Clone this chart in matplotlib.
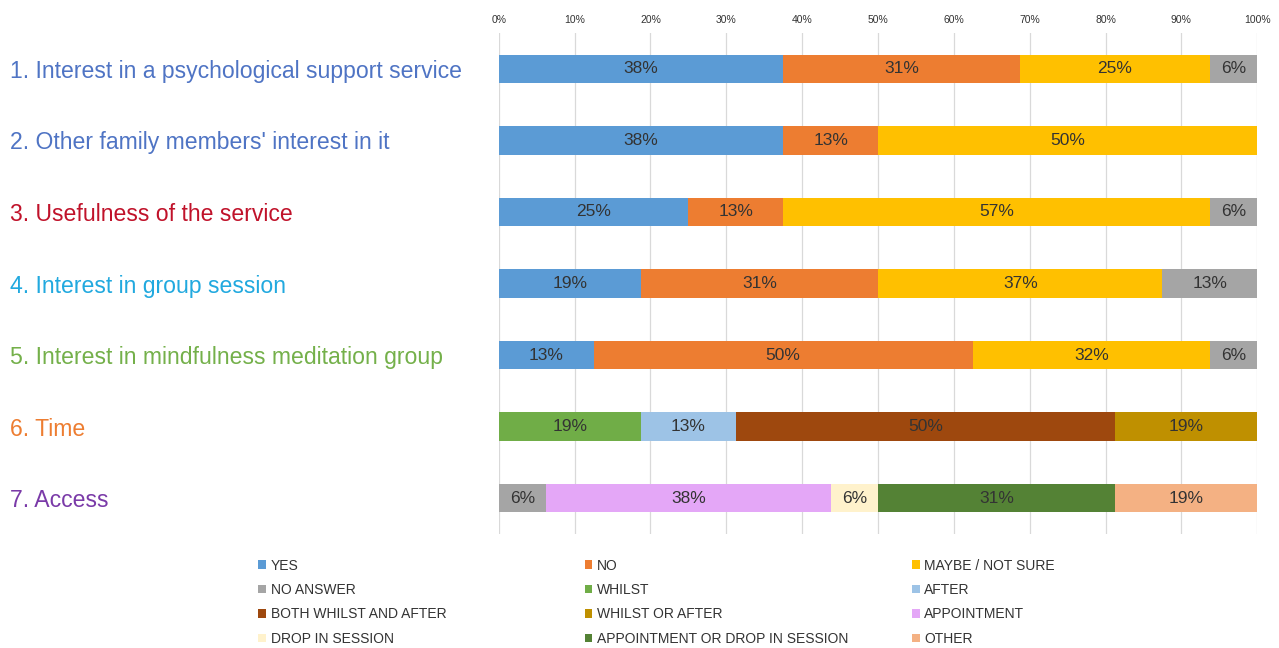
import matplotlib.pyplot as plt
import numpy as np

plt.rcParams['font.family'] = ['Liberation Sans', 'DejaVu Sans']

# questions (top to bottom) and their label colours
questions = [
    "1. Interest in a psychological support service",
    "2. Other family members' interest in it",
    "3. Usefulness of the service",
    "4. Interest in group session",
    "5. Interest in mindfulness meditation group",
    "6. Time",
    "7. Access",
]
question_colors = ['#4f74c4', '#4f74c4', '#c0122a', '#21a9df', '#74b04a', '#ed7d31', '#7a3aa8']

# answer categories and colours
categories = ['YES', 'NO', 'MAYBE / NOT SURE', 'NO ANSWER', 'WHILST', 'AFTER',
              'BOTH WHILST AND AFTER', 'WHILST OR AFTER', 'APPOINTMENT',
              'DROP IN SESSION', 'APPOINTMENT OR DROP IN SESSION', 'OTHER']
cat_colors = ['#5b9bd5', '#ed7d31', '#ffc000', '#a5a5a5', '#70ad47', '#9dc3e6',
              '#9e480e', '#bf9000', '#e4a7f7', '#fff2cc', '#548235', '#f4b183']

# segments per question: (category, share in %, shown label)
q1 = [('YES', 37.5, '38%'), ('NO', 31.25, '31%'), ('MAYBE / NOT SURE', 25.0, '25%'), ('NO ANSWER', 6.25, '6%')]
q2 = [('YES', 37.5, '38%'), ('NO', 12.5, '13%'), ('MAYBE / NOT SURE', 50.0, '50%')]
q3 = [('YES', 25.0, '25%'), ('NO', 12.5, '13%'), ('MAYBE / NOT SURE', 56.25, '57%'), ('NO ANSWER', 6.25, '6%')]
q4 = [('YES', 18.75, '19%'), ('NO', 31.25, '31%'), ('MAYBE / NOT SURE', 37.5, '37%'), ('NO ANSWER', 12.5, '13%')]
q5 = [('YES', 12.5, '13%'), ('NO', 50.0, '50%'), ('MAYBE / NOT SURE', 31.25, '32%'), ('NO ANSWER', 6.25, '6%')]
q6 = [('WHILST', 18.75, '19%'), ('AFTER', 12.5, '13%'), ('BOTH WHILST AND AFTER', 50.0, '50%'), ('WHILST OR AFTER', 18.75, '19%')]
q7 = [('NO ANSWER', 6.25, '6%'), ('APPOINTMENT', 37.5, '38%'), ('DROP IN SESSION', 6.25, '6%'),
      ('APPOINTMENT OR DROP IN SESSION', 31.25, '31%'), ('OTHER', 18.75, '19%')]
rows = [q1, q2, q3, q4, q5, q6, q7]

fig = plt.figure(figsize=(12.79, 6.48), dpi=100)
ax = fig.add_axes([0.390, 0.176, 0.593, 0.773])

color_of = dict(zip(categories, cat_colors))
handles = {}
for i, row in enumerate(rows):
    left = 0
    for cat, val, lab in row:
        b = ax.barh(i, val, left=left, height=0.4, color=color_of[cat], label=cat)
        handles.setdefault(cat, b[0])
        ax.text(left + val / 2, i, lab, ha='center', va='center', fontsize=12.5, color='#333333')
        left += val

ax.set_xlim(0, 100)
ax.set_ylim(6.5, -0.5)
ax.set_xticks(np.arange(0, 101, 10))
ax.set_xticklabels([f'{t}%' for t in range(0, 101, 10)], fontsize=7.5, color='#333333')
ax.xaxis.tick_top()
ax.tick_params(axis='x', length=0, pad=6)
ax.grid(axis='x', color='#d9d9d9', linewidth=0.9)
ax.set_axisbelow(True)
for s in ax.spines.values():
    s.set_visible(False)

ax.set_yticks(range(len(questions)))
ax.set_yticklabels(questions, fontsize=16.6, ha='left')
ax.tick_params(axis='y', length=0, pad=352)
for tl, c in zip(ax.get_yticklabels(), question_colors):
    tl.set_color(c)

# legend: three columns, items read row-wise
col_x = [0.202, 0.457, 0.713]
for j in range(3):
    cats = categories[j::3]
    leg = fig.legend([handles[c] for c in cats], cats, loc='upper left', bbox_to_anchor=(col_x[j], 0.138),
                     frameon=False, fontsize=10, handlelength=0.55, handleheight=0.55,
                     handletextpad=0.35, labelspacing=0.75, borderpad=0, borderaxespad=0)
    for t in leg.get_texts():
        t.set_color('#333333')

fig.savefig('out.png', dpi=100)
